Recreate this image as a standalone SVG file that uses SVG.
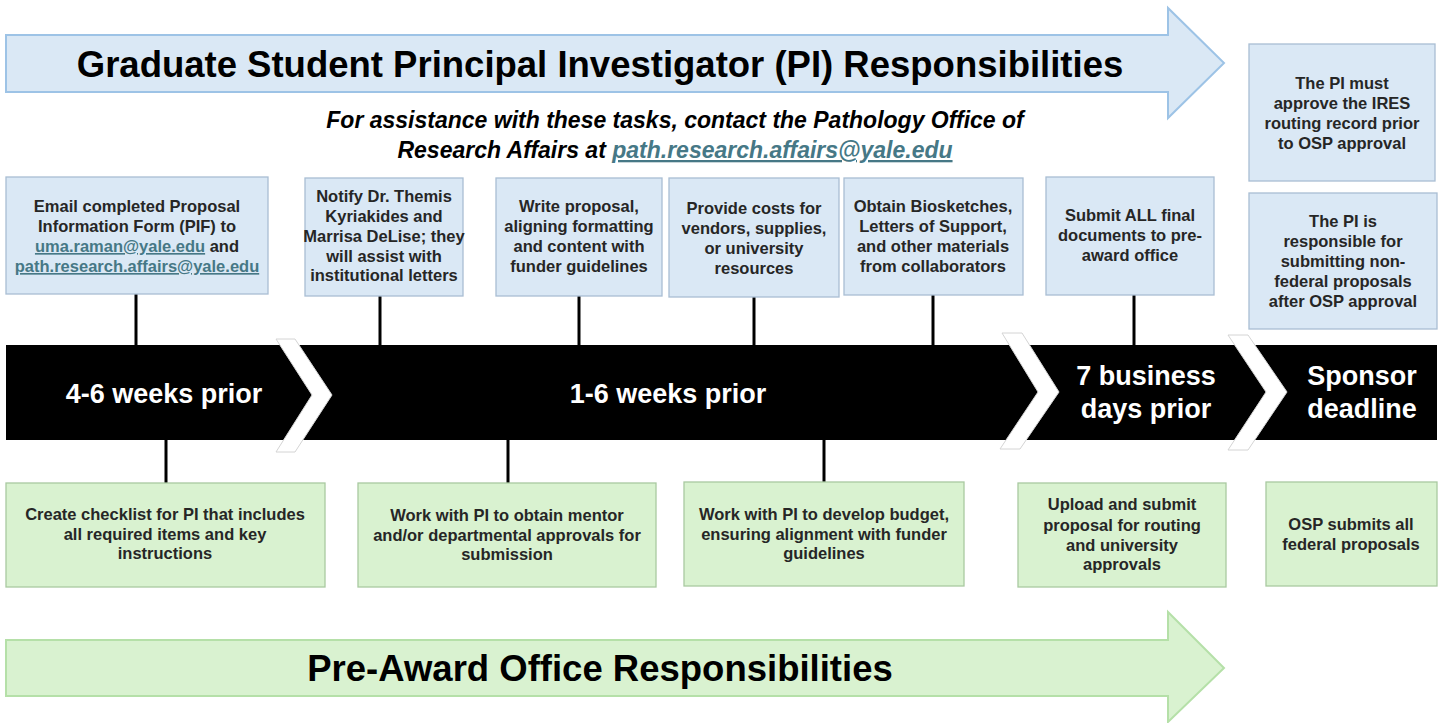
<svg xmlns="http://www.w3.org/2000/svg" width="1443" height="723" viewBox="0 0 1443 723">
<style>
.bbox{fill:#dae8f5;stroke:#a9bdd3;stroke-width:1.3}
.gbox{fill:#d9f2d0;stroke:#a9c9a0;stroke-width:1.3}
.t{font-family:"Liberation Sans",Arial,sans-serif;font-weight:bold;font-size:16.5px;fill:#262626;text-anchor:middle}
.band{font-family:"Liberation Sans",Arial,sans-serif;font-weight:bold;font-size:27px;fill:#ffffff;text-anchor:middle}
.title{font-family:"Liberation Sans",Arial,sans-serif;font-weight:bold;font-size:36.5px;fill:#000;text-anchor:middle}
.sub{font-family:"Liberation Sans",Arial,sans-serif;font-weight:bold;font-style:italic;font-size:23px;fill:#000;text-anchor:middle}
.lnk{fill:#467886;text-decoration:underline}
.conn{stroke:#000;stroke-width:3;fill:none}
.chev{fill:#fff;stroke:#d4d4d4;stroke-width:1}
</style>
<rect width="1443" height="723" fill="#fff"/>
<g id="pi-arrow">
<polygon points="6,35 1168,35 1168,8 1224,63 1168,118 1168,92 6,92" fill="#dae8f5" stroke="#9dc3e6" stroke-width="2"/>
<text class="title" x="600" y="77">Graduate Student Principal Investigator (PI) Responsibilities</text>
</g>
<g id="subtitle">
<text class="sub" x="675" y="128">For assistance with these tasks, contact the Pathology Office of</text>
<text class="sub" x="675" y="158">Research Affairs at <tspan class="lnk">path.research.affairs@yale.edu</tspan></text>
</g>
<g id="preaward-arrow">
<polygon points="6,640 1168,640 1168,612 1224,668 1168,722 1168,696 6,696" fill="#d9f2d0" stroke="#b5e0a8" stroke-width="2"/>
<text class="title" x="600" y="681">Pre-Award Office Responsibilities</text>
</g>
<g id="connectors">
<line class="conn" x1="136" y1="294" x2="136" y2="346"/>
<line class="conn" x1="380" y1="296" x2="380" y2="346"/>
<line class="conn" x1="579" y1="296" x2="579" y2="346"/>
<line class="conn" x1="754" y1="297" x2="754" y2="346"/>
<line class="conn" x1="933" y1="295" x2="933" y2="346"/>
<line class="conn" x1="1134" y1="295" x2="1134" y2="346"/>
<line class="conn" x1="166" y1="439" x2="166" y2="483"/>
<line class="conn" x1="508" y1="439" x2="508" y2="483"/>
<line class="conn" x1="824" y1="439" x2="824" y2="482"/>
</g>
<g id="timeline">
<rect x="6" y="345" width="1431" height="95" fill="#000"/>
<polygon class="chev" points="276,339 295,339 332,395 295,452 276,452 312,395"/>
<polygon class="chev" points="1002,333 1022,333 1059,392 1020,449 1000,449 1038,392"/>
<polygon class="chev" points="1228,335 1248,335 1287,392 1248,450 1228,450 1266,392"/>
<text class="band" x="164" y="403">4-6 weeks prior</text>
<text class="band" x="668" y="403">1-6 weeks prior</text>
<text class="band" x="1146" y="385">7 business</text>
<text class="band" x="1146" y="418">days prior</text>
<text class="band" x="1362" y="385">Sponsor</text>
<text class="band" x="1362" y="418">deadline</text>
</g>
<g id="email">
<rect class="bbox" x="6" y="177" width="262" height="117"/>
<text class="t" x="137" y="212">Email completed Proposal</text>
<text class="t" x="137" y="232">Information Form (PIF) to</text>
<text class="t" x="137" y="252"><tspan class="lnk">uma.raman@yale.edu</tspan> and</text>
<text class="t" x="137" y="272"><tspan class="lnk">path.research.affairs@yale.edu</tspan></text>
</g>
<g id="notify">
<rect class="bbox" x="305" y="178" width="158" height="118"/>
<text class="t" x="384" y="202">Notify Dr. Themis</text>
<text class="t" x="384" y="222">Kyriakides and</text>
<text class="t" x="384" y="242">Marrisa DeLise; they</text>
<text class="t" x="384" y="262">will assist with</text>
<text class="t" x="384" y="281">institutional letters</text>
</g>
<g id="write">
<rect class="bbox" x="496" y="178" width="166" height="118"/>
<text class="t" x="579" y="212">Write proposal,</text>
<text class="t" x="579" y="232">aligning formatting</text>
<text class="t" x="579" y="252">and content with</text>
<text class="t" x="579" y="272">funder guidelines</text>
</g>
<g id="costs">
<rect class="bbox" x="669" y="178" width="170" height="119"/>
<text class="t" x="754" y="214">Provide costs for</text>
<text class="t" x="754" y="234">vendors, supplies,</text>
<text class="t" x="754" y="254">or university</text>
<text class="t" x="754" y="274">resources</text>
</g>
<g id="obtain">
<rect class="bbox" x="844" y="178" width="179" height="117"/>
<text class="t" x="933" y="212">Obtain Biosketches,</text>
<text class="t" x="933" y="232">Letters of Support,</text>
<text class="t" x="933" y="252">and other materials</text>
<text class="t" x="933" y="272">from collaborators</text>
</g>
<g id="submit">
<rect class="bbox" x="1046" y="177" width="168" height="118"/>
<text class="t" x="1130" y="221">Submit ALL final</text>
<text class="t" x="1130" y="241">documents to pre-</text>
<text class="t" x="1130" y="261">award office</text>
</g>
<g id="pi-must">
<rect class="bbox" x="1249" y="44" width="186" height="137"/>
<text class="t" x="1342" y="89">The PI must</text>
<text class="t" x="1342" y="109">approve the IRES</text>
<text class="t" x="1342" y="129">routing record prior</text>
<text class="t" x="1342" y="149">to OSP approval</text>
</g>
<g id="pi-responsible">
<rect class="bbox" x="1249" y="193" width="188" height="136"/>
<text class="t" x="1343" y="227">The PI is</text>
<text class="t" x="1343" y="247">responsible for</text>
<text class="t" x="1343" y="267">submitting non-</text>
<text class="t" x="1343" y="287">federal proposals</text>
<text class="t" x="1343" y="307">after OSP approval</text>
</g>
<g id="checklist">
<rect class="gbox" x="6" y="483" width="319" height="104"/>
<text class="t" x="165" y="520">Create checklist for PI that includes</text>
<text class="t" x="165" y="540">all required items and key</text>
<text class="t" x="165" y="559">instructions</text>
</g>
<g id="mentor">
<rect class="gbox" x="358" y="483" width="298" height="104"/>
<text class="t" x="507" y="521">Work with PI to obtain mentor</text>
<text class="t" x="507" y="541">and/or departmental approvals for</text>
<text class="t" x="507" y="560">submission</text>
</g>
<g id="budget">
<rect class="gbox" x="684" y="482" width="280" height="104"/>
<text class="t" x="824" y="520">Work with PI to develop budget,</text>
<text class="t" x="824" y="540">ensuring alignment with funder</text>
<text class="t" x="824" y="559">guidelines</text>
</g>
<g id="upload">
<rect class="gbox" x="1018" y="483" width="208" height="104"/>
<text class="t" x="1122" y="510">Upload and submit</text>
<text class="t" x="1122" y="531">proposal for routing</text>
<text class="t" x="1122" y="551">and university</text>
<text class="t" x="1122" y="570">approvals</text>
</g>
<g id="osp">
<rect class="gbox" x="1266" y="482" width="171" height="104"/>
<text class="t" x="1351" y="530">OSP submits all</text>
<text class="t" x="1351" y="550">federal proposals</text>
</g>
</svg>
